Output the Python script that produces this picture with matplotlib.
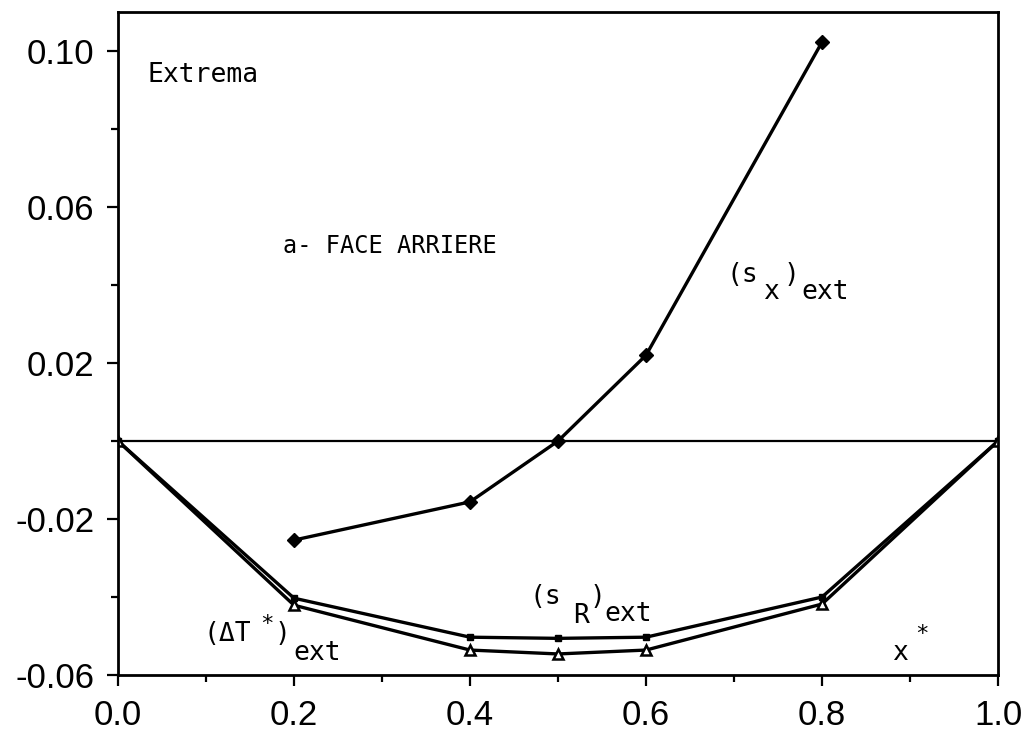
import numpy as np
import matplotlib
matplotlib.use("Agg")
from matplotlib import pyplot as plt
from matplotlib.ticker import MultipleLocator

# values
x_sx = [0.2, 0.4, 0.5, 0.6, 0.8]
sx_ext = [-0.0254, -0.0156, 0.0, 0.022, 0.1023]

x_pts = [0.0, 0.2, 0.4, 0.5, 0.6, 0.8, 1.0]
sR_ext = [0.0, -0.0403, -0.0503, -0.0506, -0.0503, -0.0400, 0.0]
dT_ext = [0.0, -0.0421, -0.0536, -0.0546, -0.0536, -0.0418, 0.0]

xticks = [0.0, 0.2, 0.4, 0.6, 0.8, 1.0]
yticks = [-0.06, -0.02, 0.02, 0.06, 0.10]
ytick_labels = ["-0.06", "-0.02", "0.02", "0.06", "0.10"]

mono = "DejaVu Sans Mono"
fs = 19

fig = plt.figure(figsize=(10.27, 7.43), dpi=100)
ax = fig.add_axes([0.1149, 0.0915, 0.8569, 0.8923])

ax.axhline(0.0, color="k", lw=1.6)

ax.plot(x_sx, sx_ext, color="k", lw=2.4, marker="D", ms=7, mfc="k", mec="k")
ax.plot(x_pts, sR_ext, color="k", lw=2.4, marker="s", ms=4, mfc="k", mec="k")
ax.plot(x_pts, dT_ext, color="k", lw=2.4, marker="^", ms=7, mfc="white", mec="k", mew=1.8)

ax.set_xlim(0.0, 1.0)
ax.set_ylim(-0.06, 0.11)

ax.set_xticks(xticks)
ax.set_xticklabels(["%.1f" % v for v in xticks])
ax.xaxis.set_minor_locator(MultipleLocator(0.1))
ax.set_yticks(yticks)
ax.set_yticklabels(ytick_labels)
ax.yaxis.set_minor_locator(MultipleLocator(0.02))

ax.tick_params(which="major", direction="out", length=8, width=1.6, labelsize=25, pad=9)
ax.tick_params(which="minor", direction="out", length=5, width=1.6)
for lab in ax.get_xticklabels() + ax.get_yticklabels():
    lab.set_fontfamily("Liberation Sans")

for sp in ax.spines.values():
    sp.set_linewidth(2.0)

# annotations
ax.text(0.033, 0.0938, "Extrema", family=mono, fontsize=fs, va="center")
ax.text(0.1875, 0.050, "a- FACE ARRIERE", family=mono, fontsize=17, va="center")

# (s_x)ext
ax.text(0.692, 0.0426, "(s", family=mono, fontsize=fs, va="center")
ax.text(0.733, 0.0382, "x", family=mono, fontsize=fs, va="center")
ax.text(0.756, 0.0426, ")", family=mono, fontsize=fs, va="center")
ax.text(0.777, 0.0382, "ext", family=mono, fontsize=fs, va="center")

# (s_R)ext
ax.text(0.468, -0.0400, "(s", family=mono, fontsize=fs, va="center")
ax.text(0.517, -0.0449, "R", family=mono, fontsize=fs, va="center")
ax.text(0.536, -0.0400, ")", family=mono, fontsize=fs, va="center")
ax.text(0.553, -0.0444, "ext", family=mono, fontsize=fs, va="center")

# (dT*)ext
ax.text(0.097, -0.0495, "(\u0394T", family=mono, fontsize=fs, va="center")
ax.text(0.161, -0.0470, "*", family=mono, fontsize=16, va="center")
ax.text(0.178, -0.0495, ")", family=mono, fontsize=fs, va="center")
ax.text(0.199, -0.0544, "ext", family=mono, fontsize=fs, va="center")

# x*
ax.text(0.880, -0.0544, "x", family=mono, fontsize=fs, va="center")
ax.text(0.906, -0.0495, "*", family=mono, fontsize=16, va="center")

fig.savefig("out.png", dpi=100)
